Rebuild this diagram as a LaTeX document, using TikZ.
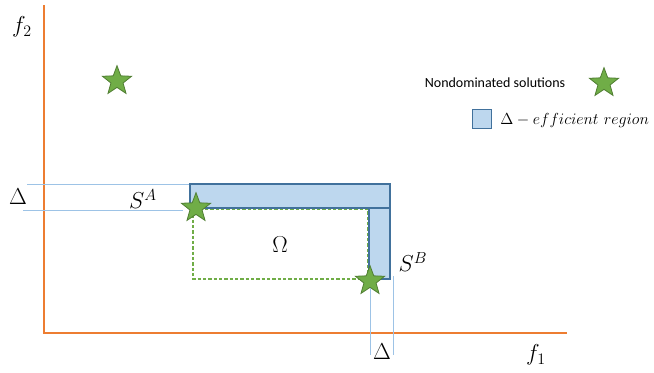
\documentclass[tikz,border=0pt]{standalone}
\usepackage{fontspec}
\setsansfont{Carlito}
\usetikzlibrary{shapes.geometric}
\definecolor{axisorange}{RGB}{237,125,49}
\definecolor{regionblue}{RGB}{189,215,238}
\definecolor{regionedge}{RGB}{65,113,156}
\definecolor{stargreen}{RGB}{112,173,71}
\definecolor{staredge}{RGB}{80,126,50}
\definecolor{guideblue}{RGB}{157,195,230}
\tikzset{
  axis/.style={draw=axisorange, line width=2.2pt},
  region/.style={draw=regionedge, fill=regionblue, line width=0.9pt},
  omegabox/.style={draw=stargreen, line width=0.9pt, dash pattern=on 2.5pt off 1.5pt},
  guide/.style={draw=guideblue, line width=0.7pt},
  solution/.style={star, star points=5, star point ratio=2.4, draw=staredge, fill=stargreen,
                   line width=0.6pt, minimum size=23pt, inner sep=0pt},
  mlabel/.style={font=\fontsize{17}{20}\selectfont, inner sep=0pt},
  legtext/.style={font=\sffamily\fontsize{10.5}{12}\selectfont, inner sep=0pt},
}
\begin{document}
\begin{tikzpicture}[x=0.75pt, y=-0.75pt]
\useasboundingbox (0,0) rectangle (654,372);
% axes
\coordinate (ytop) at (44,5);
\coordinate (O) at (44,333);
\coordinate (xend) at (567,333);
\draw[axis] (ytop) -- (O) -- (xend);
\node[mlabel] (f2) at (22,27) {$f_2$};
\node[mlabel] (f1) at (536,355) {$f_1$};

% delta guides
\coordinate (gA1) at (27,184);
\coordinate (gA2) at (23,210);
\coordinate (gA3) at (183,210);
\coordinate (gB1) at (370,355);
\coordinate (gB2) at (393,276);
\coordinate (gB3) at (393,355);
\coordinate (barTL) at (190,184);
\coordinate (barBR) at (390,208);
\coordinate (legTL) at (369,208);
\coordinate (legBR) at (390,279);
\draw[guide] (gA1) -- (barTL);
\draw[guide] (gA2) -- (gA3);
\draw[guide] (gB2) -- (gB3);

% omega box
\coordinate (omTL) at (193,209);
\coordinate (omBR) at (368,279);
\draw[omegabox] (omTL) rectangle (omBR);
\node[mlabel] (om) at (280,245) {$\Omega$};

% delta-efficient region
\draw[region] (barTL) rectangle (barBR);
\draw[region] (legTL) rectangle (legBR);

% solutions
\node[solution] (sp) at (117,81) {};
\node[solution] (SA) at (196,208) {};
\node[solution] (SB) at (370,281) {};
\draw[guide] (SB) -- (gB1);
\node[mlabel] (lA) at (143,199) {$S^A$};
\node[mlabel] (lB) at (413,262) {$S^B$};
\node[mlabel] (dl) at (18,197) {$\Delta$};
\node[mlabel] (db) at (382,352) {$\Delta$};

% legend
\node[legtext] (legnd) at (495,83) {Nondominated solutions};
\node[solution] (legstar) at (604,83) {};
\node[region, minimum size=14pt, inner sep=0pt] (legbox) at (482,119) {};
\node[inner sep=0pt, anchor=west, font=\fontsize{12}{14}\selectfont] (legreg) at (500,120)
  {$\Delta - efficient\ region$};
\end{tikzpicture}
\end{document}
